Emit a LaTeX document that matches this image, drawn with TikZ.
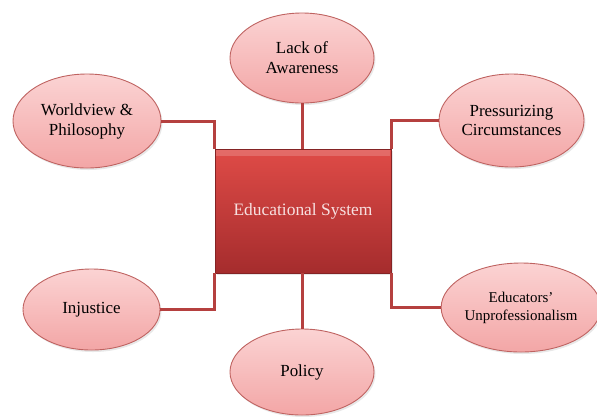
\documentclass[tikz,border=0pt]{standalone}
\usepackage{fontspec}
\setmainfont{Liberation Serif}
\usetikzlibrary{shapes.geometric,shadows}
\definecolor{linkred}{HTML}{B5403F}
\definecolor{ellborder}{HTML}{BF6361}
\definecolor{elltop}{HTML}{FBD3D3}
\definecolor{ellbot}{HTML}{F3A6A6}
\definecolor{boxtop}{HTML}{DF4B47}
\definecolor{boxbot}{HTML}{A52C2D}
\definecolor{boxtext}{HTML}{F7E0E0}
\tikzset{
  x=1bp, y=-1bp,
  bubble/.style={ellipse, draw=ellborder, line width=0.9bp, top color=elltop, bottom color=ellbot,
    align=center, inner sep=0pt, font=\fontsize{17}{20}\selectfont, text=black,
    drop shadow={shadow xshift=1.5bp, shadow yshift=-2bp, opacity=0.18}},
  hub/.style={rectangle, draw=boxbot!80!black, line width=0.8bp, top color=boxtop, bottom color=boxbot,
    inner sep=0pt, font=\fontsize{17.5}{20}\selectfont, text=boxtext,
    drop shadow={shadow xshift=1.5bp, shadow yshift=-2bp, opacity=0.2}},
  link/.style={draw=linkred, line width=3bp}
}
\begin{document}
\begin{tikzpicture}
\useasboundingbox (0,0) rectangle (597,416);
% nodes
\node[hub, minimum width=176bp, minimum height=124bp] (sys) at (303,211) {Educational System};
\node[bubble, minimum width=144bp, minimum height=90bp] (lack) at (302,58) {Lack of\\Awareness};
\node[bubble, minimum width=148bp, minimum height=94bp] (world) at (87,121) {Worldview \&\\Philosophy};
\node[bubble, minimum width=145bp, minimum height=93bp] (press) at (511.5,120.5) {Pressurizing\\Circumstances};
\node[bubble, minimum width=137bp, minimum height=81bp] (inj) at (91.5,309.5) {Injustice};
\node[bubble, minimum width=144bp, minimum height=86bp] (pol) at (302,372) {Policy};
\node[bubble, minimum width=154bp, minimum height=89bp, font=\fontsize{15}{18}\selectfont] (edu) at (521,307.5) {Educators’\\Unprofessionalism};
% connectors
\begin{scope}[on background layer/.style={}]
\end{scope}
\draw[link] (world.east) -| (sys.north west);
\draw[link] (press.west) -| (sys.north east);
\draw[link] (inj.east) -| (sys.south west);
\draw[link] (edu.west) -| (sys.south east);
\draw[link] (lack.south) -- (lack.south |- sys.north);
\draw[link] (pol.north) -- (pol.north |- sys.south);
% top highlight band of hub
\fill[white, opacity=0.18] ([xshift=1bp,yshift=-1bp]sys.north west) rectangle ([xshift=-1bp,yshift=-7bp]sys.north east);
\end{tikzpicture}
\end{document}
